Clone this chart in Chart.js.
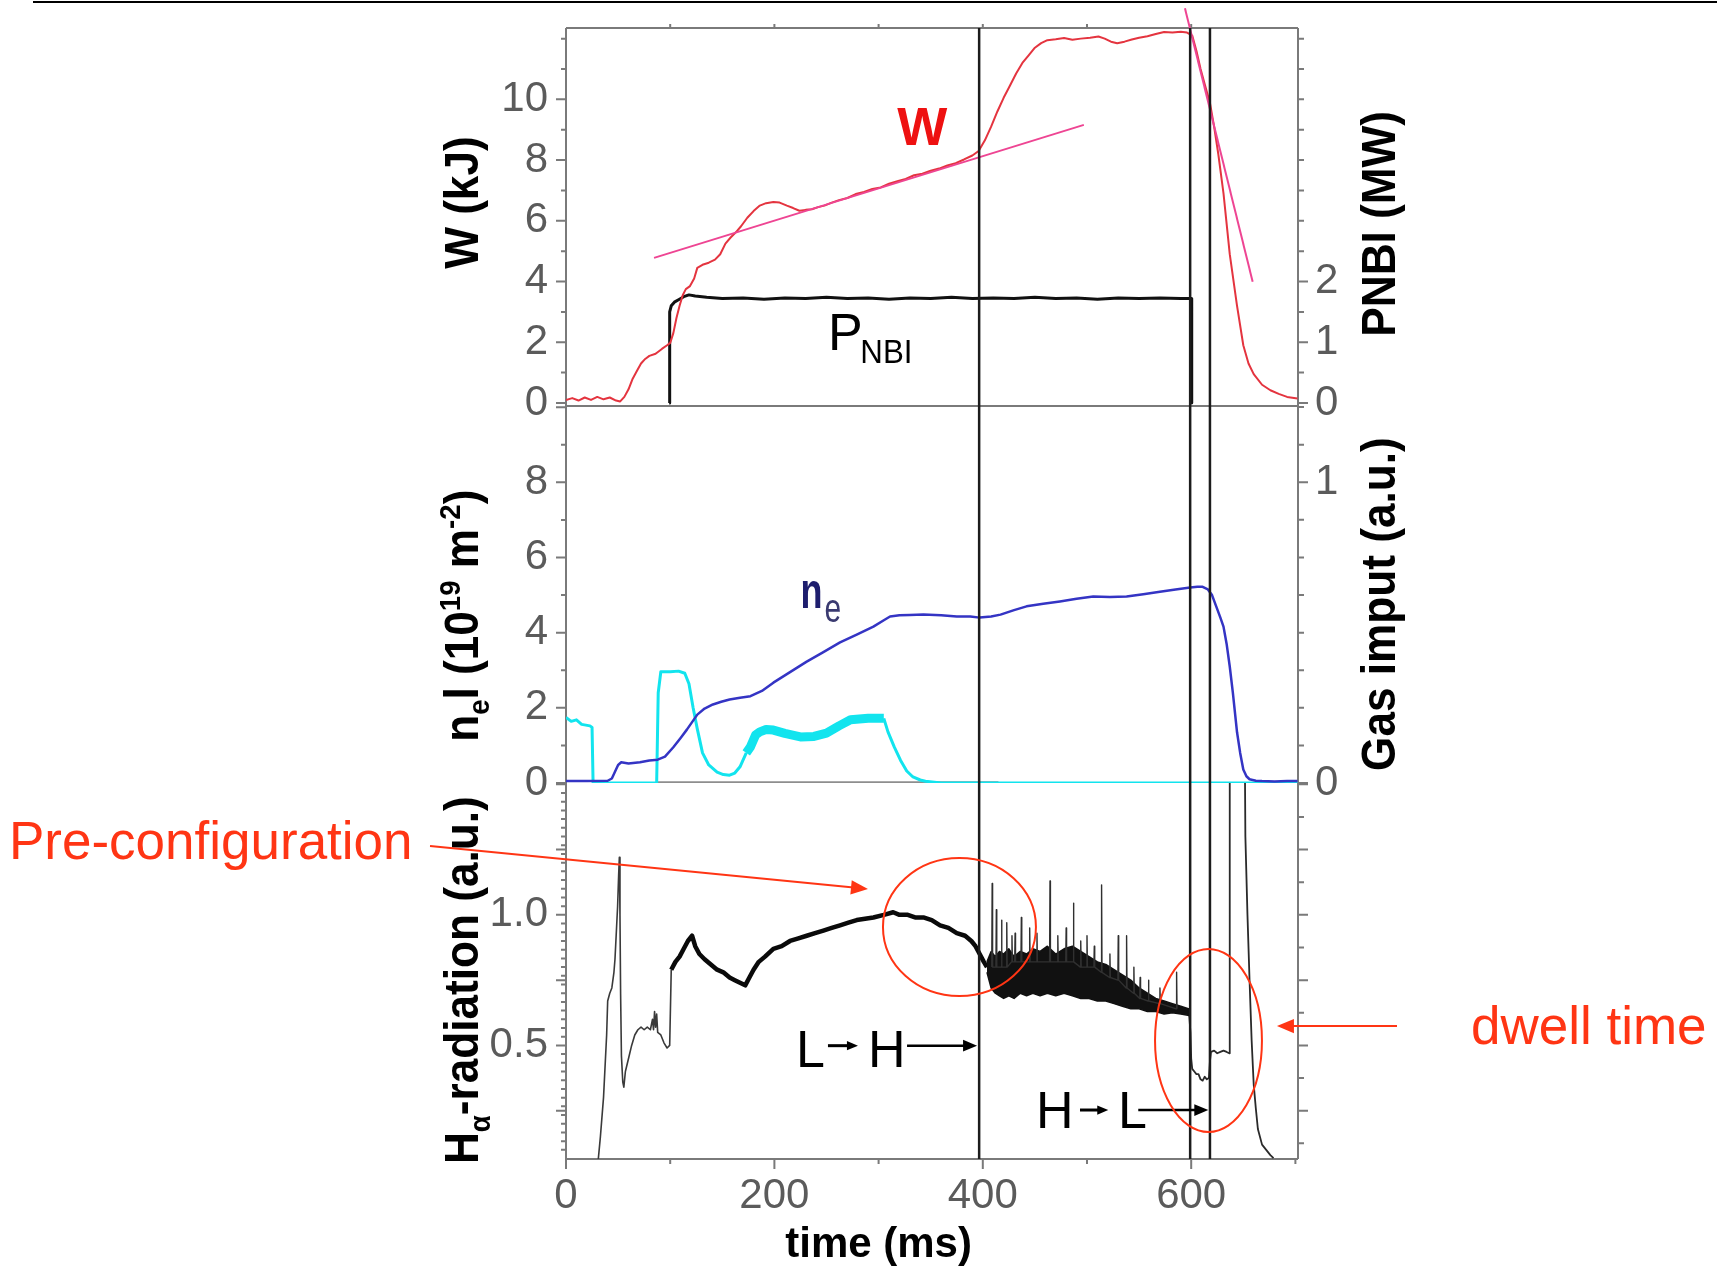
<!DOCTYPE html>
<html>
<head>
<meta charset="utf-8">
<title>Discharge overview</title>
<script src="https://cdn.jsdelivr.net/npm/chart.js@4.4.1/dist/chart.umd.min.js"></script>
<style>
  html, body { margin: 0; padding: 0; background: #fff; overflow: hidden; }
  #page { position: relative; width: 1717px; height: 1272px; overflow: hidden; }
  #page canvas { position: absolute; left: 0; top: 0; }
  .rule { position: absolute; left: 33px; right: 0; top: 1px; height: 2px; background: #000; }
</style>
</head>
<body>
<div id="page">
  <div class="rule"></div>
  <canvas id="panelW" width="1717" height="1272"></canvas>
  <canvas id="panelNe" width="1717" height="1272"></canvas>
  <canvas id="panelHa" width="1717" height="1272"></canvas>
</div>
<script>
// ---- time base (ms) ------------------------------------------------------
const T_MIN = 0;
const T_MAX = 702.5;
const T_TICKS = [0, 200, 400, 600];
const T_MARKS = [396.5, 599, 618];   // L-H transition, NBI off, H-L transition

// ---- stored energy W (kJ) and NBI power (MW) ------------------------------
const W_TICKS = [0, 2, 4, 6, 8, 10];
const PNBI_TICKS = [0, 1, 2];
const W_DATA = [
  [0, 0.10], [6, 0.16], [12, 0.08], [18, 0.18], [24, 0.10], [30, 0.20], [36, 0.12], [42, 0.18],
  [48, 0.08], [52, 0.05], [56, 0.20], [60, 0.45], [64, 0.80], [68, 1.05], [72, 1.30], [76, 1.45],
  [80, 1.55], [86, 1.62], [92, 1.78], [97, 1.90], [100, 1.98], [103, 2.30], [106, 2.80], [109, 3.20],
  [112, 3.55], [115, 3.75], [119, 3.85], [123, 4.10], [126, 4.45], [131, 4.55], [137, 4.62], [143, 4.72],
  [148, 4.90], [153, 5.25], [158, 5.45], [163, 5.62], [168, 5.82], [174, 6.10], [180, 6.32], [186, 6.50],
  [192, 6.58], [199, 6.62], [205, 6.60], [212, 6.50], [218, 6.42], [224, 6.33], [230, 6.36], [236, 6.38],
  [242, 6.45], [248, 6.50], [255, 6.60], [262, 6.68], [270, 6.75], [278, 6.88], [286, 6.95], [294, 7.05],
  [302, 7.10], [310, 7.22], [318, 7.30], [326, 7.38], [334, 7.50], [342, 7.55], [350, 7.65], [358, 7.72],
  [366, 7.82], [374, 7.90], [382, 8.02], [390, 8.15], [396, 8.30], [402, 8.65], [408, 9.10], [414, 9.60],
  [420, 10.05], [426, 10.45], [432, 10.85], [438, 11.20], [444, 11.45], [450, 11.70], [456, 11.85],
  [462, 11.95], [470, 11.98], [478, 12.02], [486, 11.96], [494, 12.00], [503, 12.03], [511, 12.07],
  [517, 12.00], [523, 11.90], [529, 11.85], [536, 11.90], [543, 11.97], [550, 12.03], [558, 12.08],
  [566, 12.15], [574, 12.22], [582, 12.20], [590, 12.23], [596, 12.20], [601, 12.10], [605, 11.60],
  [609, 11.00], [613, 10.50], [618, 9.88], [622, 9.10], [626, 8.20], [631, 6.90], [637, 4.90],
  [644, 3.20], [650, 1.90], [655, 1.30], [660, 0.95], [668, 0.60], [676, 0.42], [684, 0.30],
  [692, 0.20], [702, 0.15]
];
const W_FIT_L = [[84.5, 4.78], [497, 9.16]];
const W_FIT_H = [[594, 13.0], [659, 3.99]];
const PNBI_DATA = [
  [99, 0], [99.5, 1.50], [101, 1.60], [104, 1.66], [108, 1.70], [113, 1.75], [118, 1.78], [124, 1.76],
  [135, 1.74], [150, 1.72], [170, 1.73], [190, 1.71], [210, 1.73], [230, 1.72], [250, 1.74], [270, 1.72],
  [290, 1.73], [310, 1.71], [330, 1.73], [350, 1.72], [370, 1.74], [390, 1.72], [410, 1.73], [430, 1.72],
  [450, 1.74], [470, 1.72], [490, 1.73], [510, 1.71], [530, 1.73], [550, 1.72], [570, 1.73], [590, 1.72],
  [600, 1.72], [600.5, 0]
];

// ---- line density (1e19 m^-2) and gas input (a.u.) ----------------------
const NE_TICKS = [0, 2, 4, 6, 8];
const GAS_TICKS = [0, 1];
const NE_DATA = [
  [0, 0.05], [20, 0.05], [40, 0.06], [44, 0.12], [47, 0.30], [50, 0.48], [53, 0.55], [60, 0.52],
  [71, 0.55], [80, 0.60], [88, 0.62], [95, 0.70], [103, 0.95], [110, 1.20], [116, 1.42], [121, 1.62],
  [126, 1.82], [133, 1.98], [141, 2.09], [149, 2.16], [157, 2.22], [167, 2.27], [177, 2.31], [188, 2.45],
  [199, 2.67], [215, 2.95], [231, 3.23], [247, 3.48], [263, 3.74], [279, 3.95], [295, 4.16], [305, 4.33],
  [311, 4.43], [320, 4.46], [330, 4.47], [343, 4.48], [360, 4.46], [375, 4.43], [388, 4.43], [397, 4.40],
  [408, 4.43], [417, 4.48], [430, 4.60], [442, 4.70], [458, 4.77], [474, 4.83], [490, 4.90], [506, 4.96],
  [522, 4.95], [538, 4.96], [554, 5.02], [570, 5.09], [585, 5.15], [599, 5.20], [606, 5.22], [611, 5.22],
  [616, 5.15], [620, 5.00], [624, 4.70], [628, 4.40], [631, 4.16], [634, 3.70], [637, 3.10], [640, 2.40],
  [644, 1.35], [647, 0.80], [650, 0.36], [653, 0.18], [656, 0.10], [662, 0.06], [668, 0.05], [680, 0.04],
  [692, 0.05], [702, 0.05]
];
const GAS_DATA = [
  [0, 0.218], [5, 0.205], [10, 0.21], [15, 0.195], [23, 0.19], [25, 0.185], [26, 0], [87, 0],
  [88.5, 0.30], [91, 0.37], [100, 0.37], [108, 0.372], [114, 0.365], [118, 0.33], [122, 0.25],
  [126, 0.18], [131, 0.10], [137, 0.06], [145, 0.036], [151, 0.028], [157, 0.026], [162, 0.033],
  [167, 0.054], [173, 0.10], [177, 0.12], [182, 0.16], [186, 0.17], [192, 0.178], [199, 0.176],
  [210, 0.165], [225, 0.153], [238, 0.155], [250, 0.166], [262, 0.19], [273, 0.21], [290, 0.215],
  [305, 0.215], [309, 0.17], [315, 0.12], [321, 0.076], [327, 0.04], [333, 0.02], [340, 0.01],
  [345, 0.006], [360, 0], [702, 0]
];
const GAS_BASE = [[87.5, 0], [415, 0]];

// ---- H-alpha radiation (a.u.) ---------------------------------------------
const HA_TICKS = [0.5, 1.0];
const HA_L = [
  [31, 0.065], [33, 0.15], [36, 0.30], [39, 0.54], [40, 0.67], [42, 0.70], [44, 0.72], [46, 0.78],
  [47, 0.83], [48.5, 0.95], [49.5, 1.03], [50.5, 1.15], [51.2, 1.22], [51.8, 1.00], [52.4, 0.70],
  [53.2, 0.46], [54.5, 0.36], [55.5, 0.34], [57, 0.40], [60, 0.45], [63, 0.50], [66, 0.54], [69, 0.56],
  [72, 0.57], [75, 0.56], [78, 0.57], [81, 0.56], [83, 0.60], [84, 0.56], [85, 0.63], [86, 0.57],
  [87, 0.62], [88, 0.55], [91, 0.54], [94, 0.51], [97, 0.49], [99.5, 0.50], [101, 0.79], [105, 0.82],
  [109, 0.84], [113, 0.87], [117, 0.90], [121, 0.92], [124, 0.88], [128, 0.85], [133, 0.83], [139, 0.81],
  [145, 0.79], [151, 0.78], [157, 0.76], [162, 0.75], [167, 0.74], [172, 0.73], [176, 0.76], [180, 0.79],
  [185, 0.82], [191, 0.84], [199, 0.87], [207, 0.88], [215, 0.90], [223, 0.91], [231, 0.92], [239, 0.93],
  [247, 0.94], [255, 0.95], [263, 0.96], [271, 0.97], [279, 0.98], [287, 0.985], [295, 0.99], [305, 1.00],
  [314, 1.01], [320, 1.00], [328, 1.00], [335, 0.99], [343, 0.99], [351, 0.98], [359, 0.96], [367, 0.95],
  [375, 0.93], [383, 0.92], [389, 0.90], [393, 0.88], [397, 0.85], [401, 0.82], [404, 0.80]
];
// ELMy H-mode: envelope of the noisy band
const HA_BAND_T  = [404, 408, 412, 416, 420, 425, 430, 436, 442, 448, 455, 462, 470, 478, 486,
                    494, 502, 510, 518, 526, 534, 542, 550, 558, 566, 574, 582, 590, 598];
const HA_BAND_HI = [0.82, 0.86, 0.84, 0.86, 0.85, 0.87, 0.84, 0.86, 0.85, 0.87, 0.86, 0.88, 0.85, 0.87, 0.88,
                    0.86, 0.84, 0.82, 0.81, 0.79, 0.77, 0.75, 0.72, 0.70, 0.68, 0.67, 0.66, 0.65, 0.64];
const HA_BAND_LO = [0.78, 0.72, 0.70, 0.69, 0.68, 0.69, 0.68, 0.70, 0.69, 0.70, 0.69, 0.70, 0.69, 0.70, 0.69,
                    0.68, 0.68, 0.67, 0.67, 0.66, 0.65, 0.64, 0.64, 0.63, 0.63, 0.62, 0.625, 0.62, 0.615];
// single ELM bursts: [time, band level, peak]
const HA_ELMS = [
  [409, 0.80, 1.12], [413, 0.80, 1.02], [418, 0.80, 0.98], [423, 0.80, 0.97], [428, 0.82, 0.92],
  [431, 0.82, 0.93], [437, 0.82, 0.99], [445, 0.82, 0.95], [452, 0.82, 0.93], [464.5, 0.82, 1.13],
  [472, 0.82, 0.92], [480, 0.82, 0.95], [487, 0.82, 1.045], [494, 0.80, 0.90], [500, 0.80, 0.92],
  [507, 0.80, 0.88], [514, 0.78, 1.115], [522, 0.76, 0.85], [530, 0.75, 0.92], [538, 0.72, 0.92],
  [545, 0.70, 0.80], [551, 0.68, 0.76], [559, 0.67, 0.75], [570, 0.66, 0.72], [586, 0.64, 0.78]
];
const HA_TAIL = [
  [598, 0.62], [599.3, 0.55], [600, 0.45], [601, 0.41], [603, 0.40], [605, 0.39], [607, 0.39], [609, 0.37],
  [611, 0.365], [613, 0.38], [615, 0.37], [617, 0.375], [618, 0.44], [619, 0.475], [622, 0.48], [625, 0.47],
  [628, 0.475], [631, 0.48], [634, 0.475], [636.5, 0.47], [637, 1.90], [651, 1.90], [652, 1.30], [654, 1.00],
  [656, 0.75], [658, 0.52], [660, 0.35], [662, 0.26], [664, 0.18], [668, 0.12], [672, 0.10], [676, 0.08],
  [679, 0.068]
];

// ---- layout ---------------------------------------------------------------
const PAGE_W = 1717, PAGE_H = 1272;
const PLOT_L = 566, PLOT_R = 1298;
const AXIS_W = 110, XAXIS_H = 70;
const FONT = '"Liberation Sans", Arial, Helvetica, sans-serif';
const TICK_FONT = { family: FONT, size: 42 };
const TICK_COLOR = '#5b5b5b';
const FRAME_COLOR = '#7a7a7a';
const RED = '#ff3514';
const TITLE_FONT = 'bold 48px ' + FONT;

const pts = arr => arr.map(([x, y]) => ({ x, y }));
const isMult = (v, m) => Math.abs(v / m - Math.round(v / m)) < 1e-6;
function range(a, b, step) {
  const out = [];
  for (let i = 0; a + i * step <= b + 1e-9; i++) out.push(+(a + i * step).toFixed(5));
  return out;
}

function series(data, color, width, yAxisID, extra) {
  return Object.assign({
    data: pts(data), yAxisID, borderColor: color, borderWidth: width,
    pointRadius: 0, tension: 0, fill: false, borderJoinStyle: 'round'
  }, extra || {});
}

// fixed-size axis boxes so that the three panels line up exactly
function yScale(position, min, max, ticks, showLabels, fmt) {
  return {
    type: 'linear', position, min, max,
    afterFit: s => { s.width = AXIS_W; s.paddingTop = 0; s.paddingBottom = 0; },
    afterBuildTicks: s => { s.ticks = ticks.map(v => ({ value: v })); },
    grid: { display: false, drawTicks: false },
    border: { display: false },
    ticks: {
      display: showLabels, padding: position === 'left' ? 18 : 17,
      color: TICK_COLOR, font: TICK_FONT,
      callback: fmt || (v => String(v))
    }
  };
}

function xScale(visible) {
  return {
    type: 'linear', min: T_MIN, max: T_MAX, display: visible,
    afterFit: s => { s.height = visible ? XAXIS_H : 0; s.paddingLeft = 0; s.paddingRight = 0; },
    afterBuildTicks: s => { s.ticks = T_TICKS.map(v => ({ value: v })); },
    grid: { display: false, drawTicks: false },
    border: { display: false },
    ticks: { padding: 12, color: TICK_COLOR, font: TICK_FONT, maxRotation: 0, autoSkip: false }
  };
}

// frame lines and tick marks, drawn behind the curves
function framePlugin(sides, marks) {
  return {
    id: 'frame',
    beforeDatasetsDraw(chart) {
      const { ctx, chartArea: a } = chart;
      ctx.save();
      ctx.strokeStyle = FRAME_COLOR;
      ctx.lineWidth = 2;
      ctx.beginPath();
      if (sides.includes('left'))   { ctx.moveTo(a.left, a.top);  ctx.lineTo(a.left, a.bottom); }
      if (sides.includes('right'))  { ctx.moveTo(a.right, a.top); ctx.lineTo(a.right, a.bottom); }
      if (sides.includes('top'))    { ctx.moveTo(a.left, a.top);  ctx.lineTo(a.right, a.top); }
      if (sides.includes('bottom')) { ctx.moveTo(a.left, a.bottom); ctx.lineTo(a.right, a.bottom); }
      marks.forEach(m => {
        const s = chart.scales[m.scale];
        m.values.forEach(v => {
          const p = s.getPixelForValue(v);
          const len = m.major(v) ? 10 : m.minor;
          if (m.side === 'left')   { ctx.moveTo(a.left - len, p); ctx.lineTo(a.left, p); }
          if (m.side === 'right')  { ctx.moveTo(a.right, p); ctx.lineTo(a.right + len, p); }
          if (m.side === 'top')    { ctx.moveTo(p, a.top - len); ctx.lineTo(p, a.top); }
          if (m.side === 'bottom') { ctx.moveTo(p, a.bottom); ctx.lineTo(p, a.bottom + len); }
        });
      });
      ctx.stroke();
      ctx.restore();
    }
  };
}

// vertical time markers across every panel
const markLines = {
  id: 'markLines',
  afterDatasetsDraw(chart) {
    const { ctx, chartArea: a, scales: { x } } = chart;
    ctx.save();
    ctx.strokeStyle = '#1c1c1c';
    ctx.lineWidth = 2.5;
    T_MARKS.forEach(t => {
      const px = x.getPixelForValue(t);
      ctx.beginPath();
      ctx.moveTo(px, a.top);
      ctx.lineTo(px, a.bottom);
      ctx.stroke();
    });
    ctx.restore();
  }
};

// text made of runs with their own font and baseline shift
function richText(ctx, parts, x, y, opt) {
  const o = Object.assign({ align: 'center', rotate: 0, sx: 1, color: '#000' }, opt);
  ctx.save();
  ctx.translate(x, y);
  ctx.rotate(o.rotate);
  ctx.scale(o.sx, 1);
  ctx.textAlign = 'left';
  ctx.textBaseline = 'alphabetic';
  const widths = parts.map(p => { ctx.font = p.font; return ctx.measureText(p.text).width; });
  let cx = o.align === 'center' ? -widths.reduce((s, w) => s + w, 0) / 2 : 0;
  parts.forEach((p, i) => {
    ctx.font = p.font;
    ctx.fillStyle = p.color || o.color;
    ctx.fillText(p.text, cx, p.dy || 0);
    cx += widths[i];
  });
  ctx.restore();
}

function vTitle(ctx, parts, x, y) {
  richText(ctx, parts, x, y, { rotate: -Math.PI / 2, sx: 0.92 });
}

function arrow(ctx, x1, y1, x2, y2, head, width, color) {
  const ang = Math.atan2(y2 - y1, x2 - x1);
  ctx.save();
  ctx.strokeStyle = color;
  ctx.fillStyle = color;
  ctx.lineWidth = width;
  ctx.beginPath();
  ctx.moveTo(x1, y1);
  ctx.lineTo(x2 - Math.cos(ang) * head * 0.7, y2 - Math.sin(ang) * head * 0.7);
  ctx.stroke();
  ctx.translate(x2, y2);
  ctx.rotate(ang);
  ctx.beginPath();
  ctx.moveTo(0, 0);
  ctx.lineTo(-head, -head * 0.42);
  ctx.lineTo(-head, head * 0.42);
  ctx.closePath();
  ctx.fill();
  ctx.restore();
}

function baseOptions(rows, withXAxis, scales) {
  const xh = withXAxis ? XAXIS_H : 0;
  return {
    responsive: false, animation: false, devicePixelRatio: 1, events: [],
    layout: {
      padding: {
        left: PLOT_L - AXIS_W, right: PAGE_W - PLOT_R - AXIS_W,
        top: rows[0], bottom: PAGE_H - rows[1] - xh
      }
    },
    scales,
    plugins: { legend: { display: false }, tooltip: { enabled: false } }
  };
}

// ---- top panel: W and P_NBI -----------------------------------------------
new Chart(document.getElementById('panelW'), {
  type: 'line',
  data: {
    datasets: [
      series(W_FIT_L, '#ee4593', 2, 'y'),
      series(W_FIT_H, '#ee4593', 2, 'y', { clip: false }),
      series(W_DATA, '#e4343f', 2, 'y'),
      series(PNBI_DATA, '#111', 3, 'y2')
    ]
  },
  options: baseOptions([28, 406], false, {
    x: xScale(false),
    y: yScale('left', -0.1, 12.35, W_TICKS, true),
    y2: yScale('right', -0.05, 6.175, PNBI_TICKS, true)
  }),
  plugins: [
    framePlugin(['left', 'right', 'top', 'bottom'], [
      { scale: 'y', side: 'left', values: range(0, 12, 1), major: v => isMult(v, 2) && v <= 10, minor: 5 },
      { scale: 'y2', side: 'right', values: range(0, 6, 0.5), major: v => isMult(v, 1) && v <= 2, minor: 6 },
      { scale: 'x', side: 'top', values: range(100, 600, 100), major: () => false, minor: 4 }
    ]),
    markLines,
    {
      id: 'labelsW',
      afterDraw(chart) {
        const { ctx, chartArea: a, scales: { x, y } } = chart;
        vTitle(ctx, [{ text: 'W (kJ)', font: TITLE_FONT }], a.left - 88, y.getPixelForValue(6.6));
        vTitle(ctx, [{ text: 'PNBI (MW)', font: TITLE_FONT }], a.right + 97, y.getPixelForValue(5.9));
        richText(ctx, [{ text: 'W', font: 'bold 53px ' + FONT }], x.getPixelForValue(318), y.getPixelForValue(8.5),
          { align: 'left', color: '#ee1111' });
        richText(ctx, [{ text: 'P', font: '52px ' + FONT }], x.getPixelForValue(251.5), y.getPixelForValue(1.746),
          { align: 'left' });
        richText(ctx, [{ text: 'NBI', font: '34px ' + FONT }], x.getPixelForValue(282.5), y.getPixelForValue(1.318),
          { align: 'left', sx: 0.92 });
      }
    }
  ]
});

// ---- middle panel: line density and gas input -----------------------------
new Chart(document.getElementById('panelNe'), {
  type: 'line',
  data: {
    datasets: [
      series(NE_DATA, '#3434c4', 2.5, 'y'),
      series(GAS_DATA, '#12e4ee', 3, 'y2', {
        segment: { borderWidth: c => (c.p0.parsed.x >= 173 && c.p1.parsed.x <= 306) ? 9 : 3 }
      }),
      series(GAS_BASE, '#8e8e8e', 3.5, 'y2')
    ]
  },
  options: baseOptions([406, 783], false, {
    x: xScale(false),
    y: yScale('left', 0, 10.03, NE_TICKS, true),
    y2: yScale('right', 0, 1.2536, GAS_TICKS, true)
  }),
  plugins: [
    framePlugin(['left', 'right'], [
      { scale: 'y', side: 'left', values: range(0, 10, 1), major: v => isMult(v, 2), minor: 5 },
      { scale: 'y2', side: 'right', values: range(0, 1.25, 0.125), major: v => isMult(v, 1), minor: 6 }
    ]),
    markLines,
    {
      id: 'labelsNe',
      afterDraw(chart) {
        const { ctx, chartArea: a, scales: { x, y } } = chart;
        const big = TITLE_FONT, small = 'bold 30px ' + FONT;
        vTitle(ctx, [
          { text: 'n', font: big }, { text: 'e', font: small, dy: 11 },
          { text: 'l (10', font: big }, { text: '19', font: small, dy: -18 },
          { text: ' m', font: big }, { text: '-2', font: small, dy: -18 },
          { text: ')', font: big }
        ], a.left - 88, y.getPixelForValue(4.45));
        vTitle(ctx, [{ text: 'Gas imput (a.u.)', font: TITLE_FONT }], a.right + 97, y.getPixelForValue(4.76));
        richText(ctx, [{ text: 'n', font: 'bold 50px ' + FONT }], x.getPixelForValue(225), y.getPixelForValue(4.654),
          { align: 'left', sx: 0.72, color: '#1e1e6e' });
        richText(ctx, [{ text: 'e', font: '40px ' + FONT }], x.getPixelForValue(248), y.getPixelForValue(4.28),
          { align: 'left', sx: 0.75, color: '#3a3a70' });
      }
    }
  ]
});

// ---- bottom panel: H-alpha --------------------------------------------------
const elmPoints = [];
HA_ELMS.forEach(([t, base, peak]) => { elmPoints.push([t - 0.4, base], [t, peak], [t + 0.4, base]); });

new Chart(document.getElementById('panelHa'), {
  type: 'line',
  data: {
    datasets: [
      series(elmPoints, '#303030', 1.4, 'y'),
      series(HA_BAND_T.map((t, i) => [t, HA_BAND_HI[i]]), '#111', 1.5, 'y',
        { fill: '+1', backgroundColor: '#111' }),
      series(HA_BAND_T.map((t, i) => [t, HA_BAND_LO[i]]), '#111', 1.5, 'y'),
      series(HA_L, '#0a0a0a', 4, 'y', {
        segment: {
          borderWidth: c => c.p0.parsed.x < 100 ? 1.6 : 4.5,
          borderColor: c => c.p0.parsed.x < 100 ? '#3a3a3a' : '#0a0a0a'
        }
      }),
      series(HA_TAIL, '#2a2a2a', 1.8, 'y')
    ]
  },
  options: baseOptions([783, 1159], true, {
    x: xScale(true),
    y: yScale('left', 0.065, 1.505, HA_TICKS, true, v => v.toFixed(1)),
    y2: yScale('right', 0.065, 1.505, [], false)
  }),
  plugins: [
    framePlugin(['left', 'right', 'bottom'], [
      { scale: 'y', side: 'left', values: range(0.1, 1.5, 1 / 30).concat([0.25, 0.75, 1.25]), major: v => isMult(v, 0.25), minor: 5 },
      { scale: 'y', side: 'right', values: range(0.125, 1.5, 0.125), major: v => isMult(v, 0.25), minor: 6 },
      { scale: 'x', side: 'bottom', values: range(0, 700, 100), major: v => isMult(v, 200), minor: 5 }
    ]),
    markLines,
    {
      id: 'labelsHa',
      afterDraw(chart) {
        const { ctx, chartArea: a, scales: { x, y } } = chart;
        const X = t => x.getPixelForValue(t), Y = v => y.getPixelForValue(v);
        vTitle(ctx, [
          { text: 'H', font: TITLE_FONT }, { text: 'α', font: 'bold 30px ' + FONT, dy: 12 },
          { text: '-radiation (a.u.)', font: TITLE_FONT }
        ], a.left - 88, Y(0.75));
        richText(ctx, [{ text: 'time (ms)', font: 'bold 42px ' + FONT }], X(300), a.bottom + 98);

        // L -> H and H -> L transitions
        const trans = '52px ' + FONT;
        richText(ctx, [{ text: 'L', font: trans }], X(220.7), Y(0.4185), { align: 'left' });
        arrow(ctx, X(251.4), Y(0.499), X(280.2), Y(0.499), 11, 3, '#000');
        richText(ctx, [{ text: 'H', font: trans }], X(289.8), Y(0.4185), { align: 'left' });
        arrow(ctx, X(327.3), Y(0.499), X(394.5), Y(0.499), 14, 2.5, '#000');
        richText(ctx, [{ text: 'H', font: trans }], X(451), Y(0.1825), { align: 'left' });
        arrow(ctx, X(493.3), Y(0.2526), X(520.4), Y(0.2526), 11, 3, '#000');
        richText(ctx, [{ text: 'L', font: trans }], X(529.7), Y(0.1825), { align: 'left' });
        arrow(ctx, X(549.2), Y(0.2526), X(616.4), Y(0.2526), 14, 2.5, '#000');

        // highlighted phases
        ctx.save();
        ctx.strokeStyle = RED;
        ctx.lineWidth = 2;
        [[377.6, 0.9535, 73.4, 0.2643], [616.6, 0.5188, 51.3, 0.3504]].forEach(([t, v, dt, dv]) => {
          ctx.beginPath();
          ctx.ellipse(X(t), Y(v), X(t + dt) - X(t), Y(v - dv) - Y(v), 0, 0, Math.PI * 2);
          ctx.stroke();
        });
        ctx.restore();
        const note = '53px ' + FONT;
        richText(ctx, [{ text: 'Pre-configuration', font: note }], X(-534.6), Y(1.214), { align: 'left', color: RED });
        arrow(ctx, X(-130.5), Y(1.2637), X(289.8), Y(1.099), 17, 2, RED);
        richText(ctx, [{ text: 'dwell time', font: note }], X(868.5), Y(0.5054), { align: 'left', color: RED });
        arrow(ctx, X(797.5), Y(0.5743), X(682.3), Y(0.5743), 17, 2, RED);
      }
    }
  ]
});
</script>
</body>
</html>
